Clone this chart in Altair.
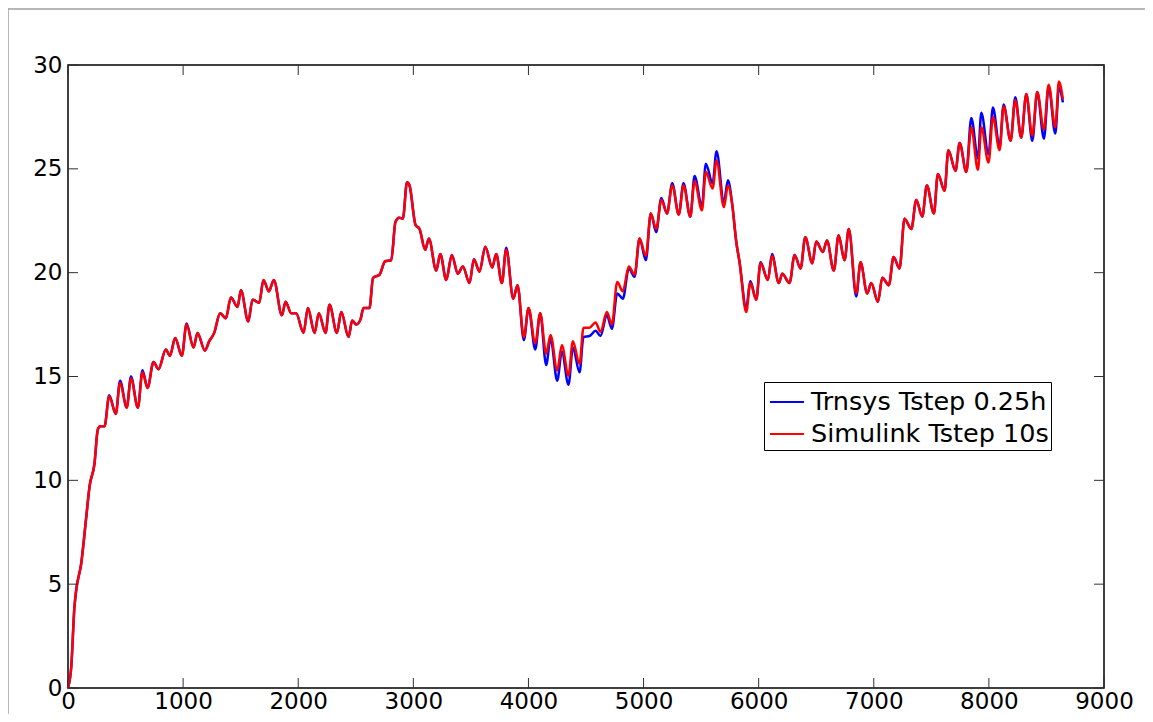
import altair as alt
import pandas as pd

# ---- data ----
TIME = [
    0, 28, 56, 71, 115, 158, 187, 230, 259, 280,
    317, 358, 415, 452, 510, 547, 607, 647, 691, 743,
    786, 850, 885, 931, 989, 1030, 1090, 1125, 1189, 1227,
    1270, 1322, 1371, 1415, 1473, 1502, 1566, 1603, 1661, 1698,
    1745, 1788, 1858, 1890, 1939, 1982, 2046, 2084, 2142, 2179,
    2237, 2272, 2336, 2374, 2437, 2469, 2504, 2541, 2567, 2619,
    2650, 2706, 2755, 2808, 2845, 2877, 2909, 2945, 2967, 3019,
    3054, 3103, 3135, 3199, 3234, 3286, 3334, 3387, 3430, 3488,
    3526, 3575, 3625, 3685, 3720, 3769, 3807, 3868, 3905, 3960,
    4001, 4059, 4102, 4154, 4192, 4250, 4290, 4348, 4386, 4444,
    4478, 4531, 4583, 4626, 4681, 4725, 4771, 4820, 4872, 4922,
    4965, 5020, 5063, 5110, 5154, 5204, 5249, 5306, 5347, 5406,
    5443, 5507, 5541, 5600, 5634, 5698, 5733, 5771, 5805, 5834,
    5892, 5927, 5979, 6016, 6080, 6116, 6175, 6205, 6268, 6312,
    6364, 6405, 6466, 6500, 6558, 6593, 6653, 6694, 6746, 6783,
    6848, 6885, 6943, 6978, 7036, 7074, 7131, 7172, 7224, 7267,
    7326, 7369, 7421, 7461, 7522, 7557, 7615, 7648, 7710, 7746,
    7804, 7847, 7905, 7934, 7997, 8035, 8093, 8128, 8189, 8229,
    8281, 8325, 8377, 8420, 8478, 8519, 8577, 8608, 8643,
]

SIMULINK = [
    0, 1.0, 3.9, 4.7, 6.0, 8.2, 9.7, 10.8, 12.45, 12.6,
    12.6, 14.05, 13.2, 14.7, 13.5, 14.9, 13.5, 15.2, 14.45, 15.7,
    15.35, 16.3, 16.0, 16.85, 16.0, 17.5, 16.4, 17.1, 16.25, 16.7,
    17.1, 18.05, 17.8, 18.8, 18.35, 19.15, 17.65, 18.7, 18.55, 19.65,
    19.1, 19.65, 17.95, 18.6, 18.05, 18.05, 17.1, 18.3, 17.1, 18.05,
    17.1, 18.45, 17.1, 18.1, 16.9, 17.7, 17.5, 17.75, 18.3, 18.3,
    19.75, 19.9, 20.55, 20.6, 22.45, 22.65, 22.6, 24.35, 24.2, 22.3,
    22.1, 21.1, 21.65, 20.1, 20.9, 19.65, 20.85, 19.95, 20.3, 19.5,
    20.65, 20.05, 21.25, 20.25, 20.9, 19.5, 21.1, 18.75, 19.4, 16.9,
    18.3, 16.6, 18.05, 16.1, 17.0, 15.3, 16.5, 15.05, 16.7, 15.6,
    17.35, 17.35, 17.6, 17.15, 18.1, 17.5, 19.55, 19.1, 20.3, 19.9,
    21.65, 20.8, 22.85, 22.1, 23.5, 22.85, 24.2, 22.8, 24.2, 22.7,
    24.4, 23.0, 24.85, 24.05, 25.4, 23.15, 24.2, 23.25, 21.5, 20.5,
    18.1, 19.5, 18.7, 20.45, 19.65, 20.8, 19.5, 19.95, 19.5, 20.85,
    20.2, 21.7, 20.45, 21.5, 21.0, 21.55, 20.1, 21.8, 20.6, 22.1,
    19.0, 20.5, 19.0, 19.5, 18.6, 19.75, 19.4, 20.75, 20.2, 22.6,
    22.1, 23.5, 22.7, 24.2, 22.85, 24.75, 23.95, 25.9, 24.9, 26.25,
    24.85, 27.0, 24.95, 27.0, 25.3, 27.5, 25.9, 28.0, 26.35, 28.3,
    26.5, 28.6, 26.6, 28.7, 26.9, 29.05, 27.0, 29.2, 28.35,
]

TRNSYS = [
    0, 1.0, 3.9, 4.7, 6.0, 8.2, 9.7, 10.8, 12.45, 12.6,
    12.6, 14.1, 13.2, 14.8, 13.5, 15.0, 13.5, 15.3, 14.45, 15.7,
    15.35, 16.3, 16.0, 16.85, 16.0, 17.55, 16.4, 17.1, 16.25, 16.7,
    17.1, 18.05, 17.8, 18.8, 18.35, 19.15, 17.65, 18.7, 18.55, 19.65,
    19.1, 19.65, 17.95, 18.6, 18.05, 18.05, 17.1, 18.3, 17.1, 18.05,
    17.1, 18.45, 17.1, 18.1, 16.9, 17.7, 17.5, 17.75, 18.3, 18.3,
    19.75, 19.9, 20.55, 20.6, 22.45, 22.65, 22.6, 24.35, 24.2, 22.3,
    22.1, 21.1, 21.65, 20.1, 20.9, 19.65, 20.85, 19.95, 20.3, 19.5,
    20.65, 20.05, 21.25, 20.25, 20.9, 19.5, 21.2, 18.75, 19.4, 16.75,
    18.3, 16.3, 18.05, 15.55, 16.85, 14.8, 16.2, 14.6, 16.4, 15.2,
    16.9, 16.95, 17.2, 16.95, 17.95, 17.3, 19.0, 18.75, 20.2, 19.8,
    21.65, 20.6, 22.85, 21.95, 23.6, 22.85, 24.3, 22.8, 24.3, 22.7,
    24.65, 23.2, 25.25, 24.3, 25.85, 23.4, 24.45, 23.25, 21.5, 20.5,
    18.3, 19.6, 18.7, 20.5, 19.65, 20.9, 19.5, 19.95, 19.5, 20.85,
    20.2, 21.7, 20.45, 21.5, 21.0, 21.55, 20.1, 21.8, 20.6, 22.1,
    18.85, 20.5, 19.0, 19.5, 18.6, 19.75, 19.4, 20.75, 20.2, 22.6,
    22.1, 23.5, 22.7, 24.2, 22.85, 24.75, 23.95, 25.9, 24.9, 26.25,
    24.85, 27.45, 25.5, 27.7, 25.7, 27.95, 26.05, 28.1, 26.35, 28.45,
    26.5, 28.6, 26.35, 28.7, 26.45, 28.95, 26.7, 28.9, 28.2,
]

SERIES = ["Trnsys Tstep 0.25h", "Simulink Tstep 10s"]
COLORS = ["#0000ff", "#ff0000"]
X_TICKS = [0, 1000, 2000, 3000, 4000, 5000, 6000, 7000, 8000, 9000]
Y_TICKS = [0, 5, 10, 15, 20, 25, 30]

# ---- layout / style ----
W, H = 1036, 623
TICK_LEN = 10
FONT = "DejaVu Sans"
TICK_COLOR = "#303030"
FRAME_COLOR = "#a0a0a0"

df_b = pd.DataFrame({"t": TIME, "v": TRNSYS, "s": SERIES[0]})
df_r = pd.DataFrame({"t": TIME, "v": SIMULINK, "s": SERIES[1]})
df_xt = pd.DataFrame({"t": X_TICKS})
df_yt = pd.DataFrame({"v": Y_TICKS})
df_one = pd.DataFrame({"k": [0]})

xs = alt.Scale(domain=[0, 9000], nice=False, zero=False)
ys = alt.Scale(domain=[0, 30], nice=False, zero=False)
cs = alt.Scale(domain=SERIES, range=COLORS)

xaxis = alt.Axis(values=X_TICKS, format="d", ticks=False, tickSize=0, domain=False, grid=False,
                 labelFontSize=23, labelFont=FONT, labelColor="black",
                 labelPadding=2, title=None, labelFlush=False, labelOverlap=False)
yaxis = alt.Axis(values=Y_TICKS, format="d", ticks=False, tickSize=0, domain=False, grid=False,
                 labelFontSize=23, labelFont=FONT, labelColor="black",
                 labelPadding=6, title=None, labelFlush=False, labelOverlap=False)

legend = alt.Legend(title=None, orient="none", legendX=696, legendY=317,
                    direction="vertical", symbolType="stroke", symbolSize=1156,
                    symbolStrokeWidth=2, symbolOffset=3, labelFontSize=25.5, labelFont=FONT,
                    labelColor="black", labelOffset=6, padding=2, rowPadding=-4,
                    strokeColor="black", fillColor="white", labelLimit=500)


def series_line(df):
    return alt.Chart(df).mark_line(interpolate="monotone", strokeWidth=2.5).encode(
        x=alt.X("t:Q", scale=xs, axis=xaxis),
        y=alt.Y("v:Q", scale=ys, axis=yaxis),
        color=alt.Color("s:N", scale=cs, legend=legend),
    )


# outer grey figure border (top and left edges), drawn as thin filled strips
frame_left = alt.Chart(df_one).mark_rect(color=FRAME_COLOR, strokeWidth=0).encode(
    x=alt.value(-60.75), x2=alt.value(-59.25), y=alt.value(-56.75), y2=alt.value(H + 100))
frame_top = alt.Chart(df_one).mark_rect(color=FRAME_COLOR, strokeWidth=0).encode(
    x=alt.value(-60.75), x2=alt.value(W + 41), y=alt.value(-56.75), y2=alt.value(-55.25))

tick_bottom = alt.Chart(df_xt).mark_rule(color=TICK_COLOR, strokeWidth=1).encode(
    x=alt.X("t:Q", scale=xs, axis=xaxis), y=alt.value(H), y2=alt.value(H - TICK_LEN))
tick_top = alt.Chart(df_xt).mark_rule(color=TICK_COLOR, strokeWidth=1).encode(
    x=alt.X("t:Q", scale=xs, axis=xaxis), y=alt.value(0), y2=alt.value(TICK_LEN))
tick_left = alt.Chart(df_yt).mark_rule(color=TICK_COLOR, strokeWidth=1).encode(
    y=alt.Y("v:Q", scale=ys, axis=yaxis), x=alt.value(0), x2=alt.value(TICK_LEN))
tick_right = alt.Chart(df_yt).mark_rule(color=TICK_COLOR, strokeWidth=1).encode(
    y=alt.Y("v:Q", scale=ys, axis=yaxis), x=alt.value(W), x2=alt.value(W - TICK_LEN))

chart = alt.layer(
    frame_left, frame_top, series_line(df_b), series_line(df_r),
    tick_bottom, tick_top, tick_left, tick_right,
).properties(
    width=W, height=H,
    padding={"left": 60, "top": 57, "right": 41, "bottom": 26},
    autosize=alt.AutoSizeParams(type="none"),
).configure_view(stroke="black", strokeWidth=1.5)

chart.save("out.html", embed_options={"renderer": "svg", "actions": False})
